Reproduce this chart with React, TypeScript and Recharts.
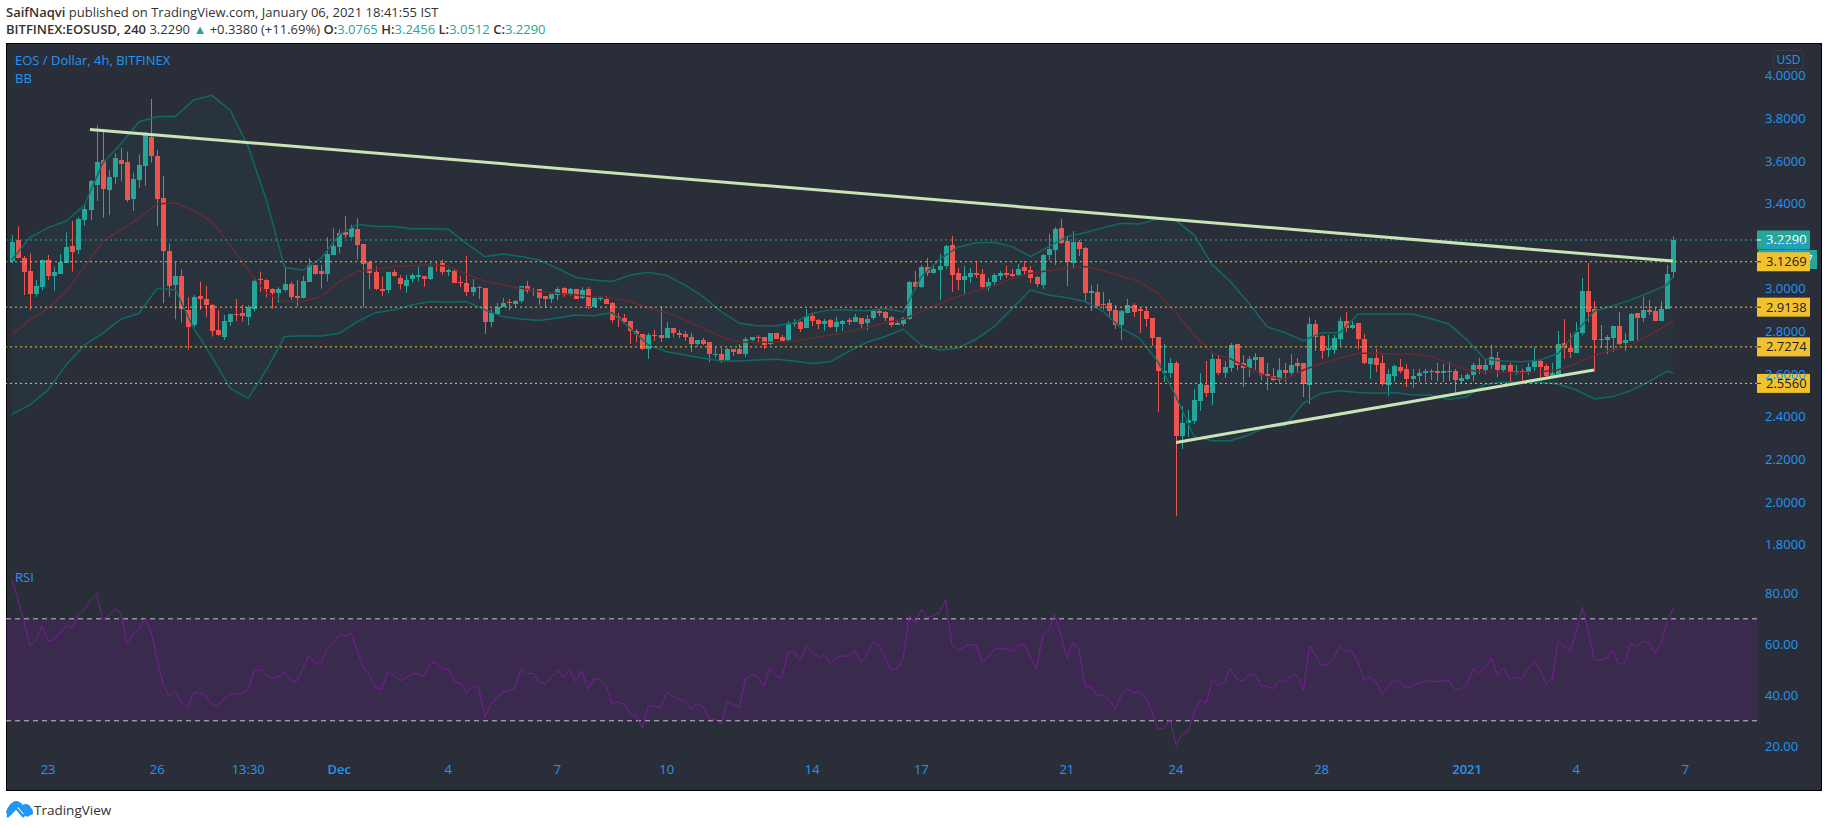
import React from "react";
import { ComposedChart, Bar, Line, Area, XAxis, YAxis, ReferenceLine, ReferenceArea } from "recharts";

const opens = [3.131,3.228,3.146,3.084,2.977,3.010,3.134,3.062,3.071,3.123,3.201,3.182,3.323,3.370,3.487,3.604,3.464,3.525,3.604,3.595,3.422,3.511,3.576,3.714,3.623,3.425,3.177,3.018,3.060,2.901,2.830,2.966,2.952,2.924,2.807,2.774,2.844,2.882,2.888,2.869,2.907,3.048,3.041,2.998,2.982,2.994,3.023,2.966,2.958,3.032,3.112,3.084,3.070,3.159,3.196,3.267,3.243,3.281,3.210,3.126,3.079,2.999,2.994,3.079,3.051,3.013,3.046,3.057,3.060,3.046,3.112,3.121,
3.079,3.084,3.032,3.027,2.985,3.002,3.004,2.844,2.882,2.915,2.938,2.929,2.943,3.013,2.993,2.999,2.966,2.952,2.971,3.004,2.971,2.999,2.957,2.999,2.915,2.954,2.952,2.933,2.868,2.863,2.849,2.802,2.788,2.717,2.783,2.783,2.769,2.816,2.793,2.788,2.774,2.741,2.760,2.750,2.691,2.694,2.666,2.717,2.717,2.694,2.760,2.775,2.774,2.741,2.793,2.774,2.760,2.836,2.844,2.816,2.872,2.854,2.835,2.854,2.821,2.835,2.854,2.844,2.863,2.840,2.863,2.896,2.891,
2.868,2.830,2.835,2.858,3.032,3.008,3.102,3.074,3.088,3.107,3.206,3.074,3.041,3.055,3.074,3.070,3.004,3.032,3.060,3.074,3.070,3.065,3.102,3.088,3.055,3.018,3.159,3.182,3.285,3.224,3.121,3.220,3.191,2.980,2.985,2.929,2.933,2.901,2.830,2.886,2.924,2.905,2.896,2.863,2.774,2.605,2.605,2.652,2.309,2.370,2.380,2.473,2.549,2.511,2.671,2.605,2.628,2.741,2.652,2.628,2.666,2.680,2.600,2.591,2.572,2.619,2.605,2.652,2.652,2.549,2.835,2.779,2.713,
2.713,2.765,2.849,2.816,2.840,2.765,2.647,2.675,2.652,2.549,2.591,2.633,2.624,2.577,2.591,2.605,2.608,2.614,2.607,2.614,2.614,2.567,2.577,2.596,2.643,2.619,2.643,2.675,2.619,2.643,2.605,2.614,2.610,2.633,2.661,2.638,2.591,2.596,2.746,2.722,2.699,2.793,2.990,2.905,2.765,2.760,2.769,2.826,2.746,2.755,2.887,2.863,2.901,2.896,2.849,2.905,3.0765];
const highs = [3.253,3.292,3.154,3.167,3.041,3.138,3.159,3.104,3.163,3.265,3.318,3.336,3.393,3.511,3.767,3.737,3.558,3.636,3.662,3.644,3.545,3.631,3.737,3.891,3.651,3.530,3.213,3.128,3.091,2.960,2.971,3.034,3.013,2.929,2.901,2.877,2.882,2.952,2.924,2.924,3.049,3.081,3.045,3.002,3.007,3.104,3.034,3.041,3.060,3.143,3.112,3.112,3.242,3.284,3.279,3.342,3.300,3.331,3.210,3.131,3.104,3.057,3.079,3.091,3.065,3.065,3.074,3.104,3.060,3.124,3.127,3.138,
3.096,3.098,3.060,3.154,3.046,3.013,3.004,2.905,2.933,2.957,2.952,2.947,3.013,3.037,3.004,2.999,2.966,2.976,3.008,3.008,3.004,2.999,3.008,3.008,2.962,2.966,2.966,2.938,2.886,2.882,2.849,2.811,2.788,2.793,2.807,2.919,2.844,2.816,2.807,2.802,2.793,2.760,2.769,2.750,2.727,2.722,2.722,2.717,2.741,2.774,2.774,2.783,2.774,2.793,2.793,2.783,2.849,2.858,2.849,2.905,2.882,2.858,2.858,2.858,2.868,2.854,2.863,2.882,2.863,2.877,2.905,2.905,2.896,
2.872,2.854,2.868,3.037,3.084,3.112,3.145,3.112,3.163,3.206,3.248,3.098,3.107,3.098,3.130,3.093,3.051,3.074,3.084,3.107,3.093,3.116,3.130,3.107,3.060,3.163,3.257,3.290,3.328,3.248,3.271,3.229,3.196,3.018,3.023,2.985,2.952,2.924,2.901,2.952,2.933,2.915,2.915,2.863,2.774,2.741,2.675,2.661,2.450,2.431,2.530,2.605,2.661,2.694,2.689,2.661,2.746,2.741,2.689,2.685,2.699,2.680,2.652,2.628,2.675,2.652,2.694,2.675,2.652,2.868,2.854,2.783,2.783,
2.783,2.868,2.891,2.849,2.840,2.788,2.675,2.718,2.689,2.624,2.643,2.671,2.647,2.624,2.624,2.624,2.624,2.652,2.647,2.657,2.624,2.596,2.605,2.652,2.675,2.666,2.736,2.703,2.643,2.652,2.643,2.624,2.652,2.727,2.671,2.647,2.652,2.802,2.858,2.793,2.844,3.051,3.121,2.943,2.830,2.783,2.826,2.891,2.793,2.887,2.887,2.962,2.948,2.915,2.943,3.112,3.2456];
const lows = [3.120,3.143,2.971,2.901,2.963,2.994,3.041,2.991,3.070,3.123,3.081,3.163,3.295,3.323,3.412,3.334,3.346,3.492,3.503,3.407,3.365,3.475,3.483,3.592,3.295,2.932,2.963,2.857,2.841,2.716,2.822,2.901,2.869,2.776,2.779,2.760,2.826,2.849,2.846,2.830,2.893,2.987,2.960,2.907,2.935,2.987,2.948,2.916,2.955,3.032,3.065,3.000,3.034,3.159,3.167,3.237,3.237,3.138,2.913,2.998,2.994,2.966,2.979,3.057,2.998,2.982,3.029,3.034,3.010,3.041,3.081,3.065,
3.060,3.027,3.008,2.966,2.966,2.952,2.788,2.821,2.882,2.915,2.901,2.915,2.933,2.980,2.966,2.924,2.910,2.933,2.947,2.962,2.966,2.952,2.952,2.905,2.915,2.943,2.929,2.840,2.821,2.840,2.741,2.750,2.713,2.671,2.755,2.750,2.769,2.774,2.769,2.755,2.703,2.732,2.736,2.657,2.675,2.652,2.661,2.685,2.694,2.680,2.755,2.750,2.717,2.736,2.764,2.755,2.755,2.821,2.797,2.816,2.825,2.811,2.802,2.816,2.797,2.802,2.830,2.844,2.807,2.807,2.854,2.872,2.849,
2.821,2.830,2.825,2.854,2.994,3.004,3.060,3.070,2.948,3.093,2.985,2.994,2.976,3.027,3.051,2.999,2.990,3.013,3.041,3.051,3.055,3.060,3.065,3.027,3.008,2.999,3.135,3.112,3.210,3.013,3.093,3.154,2.938,2.896,2.915,2.901,2.872,2.811,2.760,2.886,2.868,2.793,2.821,2.732,2.422,2.563,2.581,1.934,2.248,2.305,2.366,2.427,2.492,2.455,2.596,2.581,2.610,2.619,2.539,2.586,2.619,2.572,2.525,2.567,2.553,2.563,2.586,2.605,2.492,2.459,2.708,2.671,2.680,
2.694,2.732,2.797,2.811,2.718,2.647,2.577,2.610,2.544,2.497,2.563,2.605,2.539,2.535,2.563,2.563,2.572,2.567,2.563,2.567,2.511,2.553,2.572,2.567,2.600,2.600,2.624,2.586,2.610,2.553,2.596,2.563,2.596,2.614,2.582,2.586,2.586,2.596,2.671,2.675,2.699,2.783,2.844,2.610,2.722,2.694,2.704,2.736,2.708,2.755,2.760,2.844,2.877,2.849,2.849,2.905,3.0512];
const closes = [3.221,3.146,3.081,2.977,3.013,3.134,3.062,3.079,3.127,3.196,3.174,3.328,3.375,3.506,3.594,3.468,3.525,3.614,3.587,3.417,3.515,3.580,3.722,3.623,3.423,3.177,3.015,3.060,2.907,2.822,2.962,2.952,2.924,2.804,2.783,2.849,2.882,2.879,2.874,2.913,3.037,3.041,3.001,2.982,2.999,3.023,2.963,2.958,3.037,3.112,3.070,3.071,3.163,3.201,3.262,3.251,3.285,3.206,3.117,3.074,2.999,2.990,3.079,3.060,3.023,3.041,3.065,3.065,3.046,3.102,3.109,3.079,
3.088,3.027,3.029,2.985,3.008,3.007,2.844,2.886,2.915,2.933,2.933,2.943,3.013,2.990,2.996,2.957,2.952,2.976,2.999,2.971,2.999,2.952,2.994,2.919,2.957,2.957,2.929,2.854,2.863,2.844,2.802,2.788,2.717,2.783,2.780,2.769,2.816,2.793,2.783,2.774,2.741,2.760,2.741,2.694,2.694,2.666,2.717,2.703,2.694,2.764,2.774,2.772,2.736,2.793,2.764,2.755,2.840,2.840,2.811,2.872,2.849,2.835,2.849,2.821,2.844,2.849,2.844,2.868,2.835,2.858,2.896,2.886,2.863,
2.830,2.840,2.863,3.032,3.008,3.102,3.074,3.093,3.107,3.201,3.065,3.041,3.060,3.074,3.065,3.008,3.032,3.065,3.074,3.065,3.060,3.093,3.084,3.051,3.023,3.159,3.187,3.281,3.215,3.126,3.220,3.187,2.980,2.988,2.919,2.924,2.896,2.830,2.896,2.924,2.891,2.896,2.858,2.769,2.614,2.614,2.652,2.309,2.370,2.384,2.478,2.553,2.511,2.671,2.605,2.633,2.736,2.642,2.628,2.671,2.680,2.596,2.591,2.572,2.619,2.605,2.642,2.638,2.553,2.835,2.774,2.708,2.722,
2.769,2.849,2.816,2.830,2.765,2.652,2.675,2.642,2.553,2.600,2.638,2.614,2.577,2.591,2.605,2.614,2.614,2.605,2.614,2.611,2.572,2.582,2.596,2.643,2.624,2.643,2.680,2.619,2.643,2.605,2.614,2.610,2.633,2.661,2.633,2.591,2.605,2.741,2.722,2.704,2.797,2.990,2.891,2.760,2.760,2.774,2.826,2.741,2.760,2.882,2.863,2.901,2.891,2.849,2.905,3.070,3.229];

const bandBars = [0,3,6,9,12,15,18,21,24,27,30,33,36,39,42,45,48,51,54,57,60,63,66,69,72,75,78,81,84,87,90,93,96,99,102,105,108,111,114,117,120,123,126,129,132,135,138,141,144,147,150,153,156,159,162,165,168,171,174,177,180,183,186,189,192,195,198,201,204,207,210,213,216,219,222,225,228,231,234,237,240,243,246,249,252,255,258,261,264,267,270,273,274];
const bbUpper = [3.135,3.242,3.287,3.318,3.393,3.589,3.680,3.784,3.808,3.808,3.886,3.908,3.839,3.667,3.417,3.101,3.088,3.143,3.253,3.303,3.292,3.292,3.282,3.282,3.279,3.213,3.151,3.163,3.151,3.135,3.096,3.054,3.041,3.034,3.065,3.077,3.063,3.018,2.963,2.893,2.838,2.827,2.827,2.841,2.885,2.901,2.901,2.897,2.908,2.891,3.057,3.138,3.195,3.216,3.218,3.198,3.151,3.198,3.245,3.263,3.287,3.307,3.304,3.328,3.320,3.252,3.112,3.033,2.932,2.822,2.794,2.757,2.794,2.794,2.882,2.882,2.882,2.882,2.861,2.835,2.760,2.669,2.661,2.658,2.666,2.697,2.799,2.896,2.919,2.948,2.982,3.018,3.060];
const bbBasis = [2.783,2.854,2.909,2.987,3.104,3.221,3.276,3.331,3.398,3.404,3.367,3.315,3.206,3.088,2.979,2.940,2.940,2.963,3.034,3.081,3.091,3.104,3.109,3.112,3.107,3.068,3.037,3.018,3.002,2.987,2.979,2.971,2.963,2.957,2.940,2.910,2.888,2.854,2.814,2.775,2.752,2.749,2.749,2.755,2.768,2.783,2.799,2.818,2.841,2.857,2.893,2.929,2.963,2.990,3.015,3.049,3.073,3.085,3.096,3.104,3.085,3.060,3.033,2.979,2.888,2.783,2.697,2.671,2.627,2.588,2.575,2.619,2.650,2.674,2.697,2.697,2.694,2.694,2.682,2.650,2.619,2.610,2.608,2.607,2.611,2.619,2.650,2.689,2.713,2.736,2.783,2.830,2.854];
const bbLower = [2.411,2.455,2.525,2.643,2.736,2.791,2.857,2.885,3.002,2.994,2.815,2.682,2.533,2.486,2.619,2.776,2.780,2.779,2.791,2.846,2.888,2.901,2.924,2.940,2.937,2.940,2.901,2.869,2.858,2.851,2.863,2.877,2.874,2.888,2.814,2.736,2.705,2.689,2.674,2.661,2.661,2.666,2.669,2.661,2.650,2.658,2.705,2.749,2.775,2.810,2.736,2.713,2.721,2.763,2.822,2.908,2.994,2.971,2.958,2.940,2.893,2.814,2.768,2.658,2.494,2.306,2.287,2.287,2.314,2.353,2.358,2.463,2.510,2.522,2.513,2.510,2.513,2.502,2.502,2.481,2.494,2.552,2.561,2.561,2.560,2.553,2.525,2.483,2.494,2.522,2.564,2.614,2.603];

const rsiValues = [85.4,77.8,69.3,59.5,61.5,67.3,61.2,62,64.5,67.6,66.1,72.2,73.5,77.6,79.8,69.6,71.3,73.9,72.2,60.2,63.9,66.1,70,64.8,53.7,44.2,39.5,41.5,37.3,35,41,40.8,39.9,36.3,35.8,38.8,40.6,40.6,40.5,42.5,49.6,50,47.8,46.7,47.4,49,45.7,45.4,50.4,55.6,52.7,52.7,58,60.6,63.7,63.2,64.5,57.3,51,48,42.9,42.4,49.1,48,45.6,46.7,48.4,48.4,47.3,52.2,53,50.4,50.4,45,44.9,41,43.7,43.1,31.4,36.4,39.3,41.1,41.9,42.8,50.4,48.4,48.6,45.2,44.4,47.3,50,46.9,50.1,45.2,49.7,42.4,46.3,46.5,44,36.7,
37.5,36.4,32.7,31.7,27.3,35.9,35.8,35.1,41.1,39.5,38.5,37.5,34.6,36.7,35.4,30.8,30.4,28.7,37.5,36.4,35.4,46.3,48,47.6,43.3,50.8,47.8,46.6,57.1,57.1,53.4,59.8,57.3,54.8,56,52.2,54.7,55.6,55.1,57.6,53,55.9,60.8,59.7,55,49.9,50.4,54.3,71.3,68.3,73.8,70.5,71.3,72.5,77.5,60.2,57.6,58.9,59.9,59.7,53,55,58,58.6,58.2,57.3,59.9,59.8,54.7,50.3,63.5,65.7,71.6,63.5,54.7,60.6,58.2,43.2,43.5,39.9,40.2,38.2,34.7,40.3,42.7,41,41.4,38.9,33.8,26.9,26.7,30.8,20.3,24.9,25.7,33.3,38.2,36.9,46.5,43.5,45.2,
50.7,46.3,45.6,47.8,48.4,43.9,43.5,42.5,45.8,45.3,47.8,47.8,42,59.4,55.6,51.7,52.1,54.7,59,57.2,57.6,53,46.1,47,45.3,40.3,43.6,46.2,45.2,42.7,43.7,44.8,45.3,45.7,45.2,45.7,45.7,42.3,42.5,44.5,50.5,48.7,50.7,54.8,47.9,50.7,46.5,47.1,46.5,50.1,53.4,50,44.5,46.3,61.2,59.4,57.1,64.8,74.7,64.8,53.9,53.9,54.3,57.8,52.1,52.9,60.5,59,61.2,60.6,56.5,60.2,69.3,74.3];

const priceTicks = [1.8,2.0,2.2,2.4,2.6,2.8,3.0,3.2,3.4,3.6,3.8,4.0];
const rsiTicks = [20,40,60,80];
const timeTickBars = [6,24,39,54,72,90,108,132,150,174,192,216,240,258,276];
const timeTickLabels = ["23","26","13:30","Dec","4","7","10","14","17","21","24","28","2021","4","7"];
const levels = [3.1269,2.9138,2.7274,2.556];
const lastClose = 3.229;
const countdown = "02:48:07";
const upperTrend = [{ x: 12.9, y: 3.748 }, { x: 273.9, y: 3.13 }];
const lowerTrend = [{ x: 192, y: 2.279 }, { x: 260.9, y: 2.619 }];

const candles = opens.map((o, i) => ({ i, o, h: highs[i], l: lows[i], c: closes[i] }));
const bands = bandBars.map((i, k) => ({ i, upper: bbUpper[k], basis: bbBasis[k], lower: bbLower[k], range: [bbLower[k], bbUpper[k]] }));
const rsiRows = rsiValues.map((v, i) => ({ i, v }));

const TEAL = "#26a69a";
const RED = "#ef5350";
const BLUE = "#2196f3";
const BG = "#2a2e39";
const YELLOW = "#f2c12e";
const FONT = "'Open Sans', sans-serif";
const XDOMAIN: [number, number] = [-0.94, 287.8];

const Candle = (props: any) => {
  const { x, y, width, height, payload } = props;
  const { o, h, l, c } = payload;
  const k = height / Math.max(h - l, 1e-6);
  const cx = Math.round(x + width / 2 - 0.5);
  const top = Math.round(y + (h - Math.max(o, c)) * k);
  const bot = Math.round(y + (h - Math.min(o, c)) * k);
  const col = c >= o ? TEAL : RED;
  return (
    <g>
      <rect x={cx} y={y} width={1} height={height} fill={col} />
      <rect x={cx - 2} y={top} width={5} height={Math.max(bot - top, 1)} fill={col} />
    </g>
  );
};

const levelLabel = (val: number, fill: string, color: string, extra?: string) => (p: any) => {
  const vb = p.viewBox;
  const y = vb.y;
  const x = vb.x + vb.width;
  return (
    <g>
      {extra ? (
        <g>
          <rect x={x + 1} y={y + 10} width={59} height={19} fill={TEAL} />
          <text x={x + 30} y={y + 24} textAnchor="middle" fontFamily={FONT} fontSize={13} fill="#fff">{extra}</text>
        </g>
      ) : null}
      <rect x={x} y={y - 9.5} width={53} height={19} fill={fill} />
      <rect x={x} y={y - 0.5} width={4} height={1} fill={color} />
      <text x={x + 9} y={y + 4.5} fontFamily={FONT} fontSize={13} fill={color}>{val.toFixed(4)}</text>
    </g>
  );
};

const TimeTick = (props: any) => {
  const { x, y, payload } = props;
  const idx = timeTickBars.indexOf(payload.value);
  const label = timeTickLabels[idx];
  const bold = label === "Dec" || label === "2021";
  return (
    <text x={x} y={y + 4} textAnchor="middle" fontFamily={FONT} fontSize={13} fontWeight={bold ? 600 : 400} fill={BLUE}>{label}</text>
  );
};

const abs = (l: number, t: number, extra: React.CSSProperties = {}): React.CSSProperties => ({
  position: "absolute", left: l, top: t, whiteSpace: "nowrap", fontFamily: FONT, lineHeight: "16px", ...extra,
});

export default function App() {
  return (
    <div style={{ position: "absolute", left: 0, top: 0, width: 1828, height: 828, background: "#fff", overflow: "hidden" }}>
      <div style={abs(6, 4, { fontSize: 13, color: "#333" })}>
        <b style={{ fontWeight: 600 }}>SaifNaqvi</b> published on TradingView.com, January 06, 2021 18:41:55 IST
      </div>
      <div style={abs(6, 21, { fontSize: 13, color: "#333" })}>
        <b style={{ fontWeight: 600 }}>BITFINEX:EOSUSD, 240</b> 3.2290 <span style={{ color: TEAL }}>▲</span> +0.3380 (+11.69%){" "}
        <b style={{ fontWeight: 600 }}>O:</b><span style={{ color: TEAL }}>3.0765</span>{" "}
        <b style={{ fontWeight: 600 }}>H:</b><span style={{ color: TEAL }}>3.2456</span>{" "}
        <b style={{ fontWeight: 600 }}>L:</b><span style={{ color: TEAL }}>3.0512</span>{" "}
        <b style={{ fontWeight: 600 }}>C:</b><span style={{ color: TEAL }}>3.2290</span>
      </div>
      <div style={{ position: "absolute", left: 6, top: 43, width: 1816, height: 748, boxSizing: "border-box", background: BG, border: "1px solid #000" }} />

      <div style={{ position: "absolute", left: 0, top: 0 }}>
        <ComposedChart width={1828} height={828} data={candles} margin={{ left: 6, top: 44, right: 7, bottom: 268 }}>
          <XAxis dataKey="i" type="number" domain={XDOMAIN} hide allowDataOverflow />
          <YAxis
            orientation="right" width={64} domain={[1.7273, 4.1487]} ticks={priceTicks} interval={0} allowDataOverflow
            axisLine={false} tickLine={false} tickFormatter={(v: number) => v.toFixed(4)}
            tick={{ fill: BLUE, fontSize: 13, fontFamily: FONT }}
          />
          <Area data={bands} dataKey="range" stroke="none" fill={TEAL} fillOpacity={0.05} isAnimationActive={false} dot={false} activeDot={false} />
          <Line data={bands} dataKey="upper" stroke="#0d6b64" strokeWidth={1.5} dot={false} isAnimationActive={false} />
          <Line data={bands} dataKey="basis" stroke="#672a31" strokeWidth={1.5} dot={false} isAnimationActive={false} />
          <Line data={bands} dataKey="lower" stroke="#0d6b64" strokeWidth={1.5} dot={false} isAnimationActive={false} />
          <Bar dataKey={(d: any) => [d.l, d.h]} barSize={5} shape={Candle} isAnimationActive={false} />
          <ReferenceLine y={lastClose} stroke={TEAL} strokeDasharray="2 3" label={levelLabel(lastClose, TEAL, "#fff", countdown)} />
          {levels.map((v) => (
            <ReferenceLine key={v} y={v} stroke={YELLOW} strokeDasharray="2 3" label={levelLabel(v, YELLOW, "#222")} />
          ))}
          <ReferenceLine segment={upperTrend} stroke="#c9e5b5" strokeWidth={3} ifOverflow="visible" />
          <ReferenceLine segment={lowerTrend} stroke="#c9e5b5" strokeWidth={3} ifOverflow="visible" />
        </ComposedChart>
      </div>

      <div style={{ position: "absolute", left: 0, top: 0 }}>
        <ComposedChart width={1828} height={828} data={rsiRows} margin={{ left: 6, top: 564, right: 7, bottom: 38 }}>
          <XAxis
            dataKey="i" type="number" domain={XDOMAIN} ticks={timeTickBars} interval={0} height={28} allowDataOverflow
            axisLine={false} tickLine={false} tick={<TimeTick />}
          />
          <YAxis
            orientation="right" width={64} domain={[13.84, 91.5]} ticks={rsiTicks} interval={0} allowDataOverflow
            axisLine={false} tickLine={false} tickFormatter={(v: number) => v.toFixed(2)}
            tick={{ fill: BLUE, fontSize: 13, fontFamily: FONT }}
          />
          <ReferenceArea y1={30} y2={70} fill="#7b1fa2" fillOpacity={0.2} stroke="none" />
          <ReferenceLine y={70} stroke="#c8c4cc" strokeDasharray="5 4" />
          <ReferenceLine y={30} stroke="#c8c4cc" strokeDasharray="5 4" />
          <Line dataKey="v" stroke="#7d1a9c" strokeWidth={1} dot={false} isAnimationActive={false} />
        </ComposedChart>
      </div>

      <div style={abs(15, 52, { fontSize: 13, color: BLUE })}>EOS / Dollar, 4h, BITFINEX</div>
      <div style={abs(15, 70, { fontSize: 13, color: BLUE })}>BB</div>
      <div style={abs(15, 569, { fontSize: 13, color: BLUE })}>RSI</div>
      <div style={{ position: "absolute", left: 1773, top: 50, width: 31, height: 19, boxSizing: "border-box", border: "1px solid #363a45", borderRadius: 4, color: BLUE, fontFamily: FONT, fontSize: 12, lineHeight: "17px", textAlign: "center" }}>USD</div>

      <svg style={{ position: "absolute", left: 6, top: 800 }} width={28} height={20} viewBox="0 0 28 20">
        <path d="M0 12 C2 6 6 1 10 1 C13 1 15 3 17 5 C19 3 24 4 25 8 C27 9 27 12 27 14 L21 17 L17 13 L12 7 L5 15 L2 17 Z" fill="#2196f3" />
        <path d="M1 17 L10 8 L17 16 L24 11" stroke="#2196f3" strokeWidth={2.5} fill="none" />
      </svg>
      <div style={abs(34, 802, { fontSize: 13.5, color: "#333" })}>TradingView</div>
    </div>
  );
}
